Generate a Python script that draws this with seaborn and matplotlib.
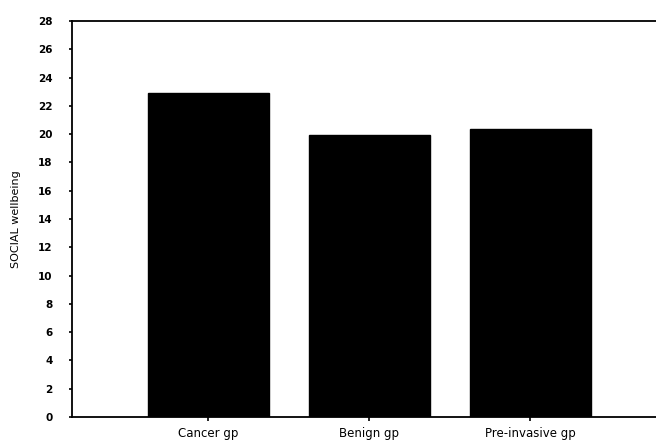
import matplotlib
matplotlib.use("Agg")
import matplotlib.pyplot as plt
import seaborn as sns
import pandas as pd

categories = ["Cancer gp", "Benign gp", "Pre-invasive gp"]
values = [22.9, 19.95, 20.35]
yticks = list(range(0, 29, 2))

sns.set_style("white")
plt.rcParams['font.family'] = ['DejaVu Sans']
plt.rcParams['text.color'] = 'black'
plt.rcParams['axes.labelcolor'] = 'black'
plt.rcParams['xtick.color'] = 'black'
plt.rcParams['ytick.color'] = 'black'

df = pd.DataFrame({"group": categories, "value": values})

fig = plt.figure(figsize=(6.56, 4.42), dpi=100)
ax = fig.add_axes([0.1098, 0.0566, 0.8902, 0.8959])
sns.barplot(data=df, x="group", y="value", color="black", width=0.75,
            saturation=1, ax=ax, edgecolor="black")
ax.set_xlim(-0.845, 2.78)
ax.set_ylim(0, 28)
ax.set_yticks(yticks)
ax.set_yticklabels([str(t) for t in yticks], fontsize=7.5, fontweight="bold")
ax.set_xlabel("")
ax.set_ylabel("SOCIAL wellbeing", fontsize=8, labelpad=12)
ax.tick_params(axis="x", labelsize=8.5, length=3, width=1.2, direction="out", pad=4, bottom=True)
ax.tick_params(axis="y", length=2, width=1.2, direction="out", pad=12, left=True)
for s in ["left", "bottom", "top"]:
    ax.spines[s].set_visible(True)
    ax.spines[s].set_color("black")
    ax.spines[s].set_linewidth(1.3)
ax.spines["right"].set_visible(False)

fig.savefig("out.png", dpi=100)
